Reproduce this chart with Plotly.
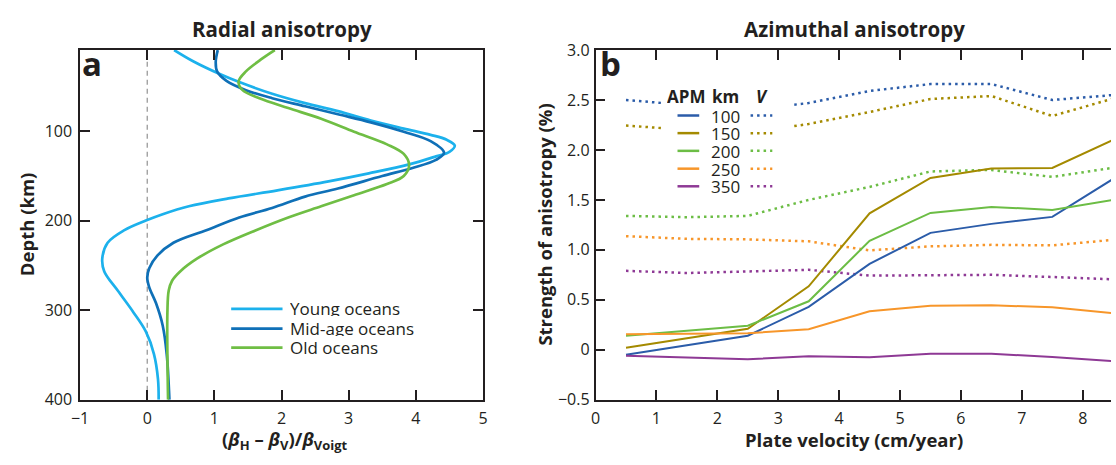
import plotly.graph_objects as go

W, H = 1116, 465
FONT = "Open Sans"
INK = "#231f20"

# ---- Panel a: radial anisotropy vs depth ----
young_x = [0.40, 0.69, 1.08, 1.37, 1.86, 2.35, 2.84, 3.33, 3.82, 4.22, 4.46, 4.58, 4.50,
           4.30, 3.90, 3.30, 2.70, 1.94, 1.21, 0.62, 0.23, -0.02, -0.34, -0.59, -0.67, -0.64,
           -0.44, -0.20, -0.02, 0.10, 0.16, 0.17]
young_depth = [9.2, 22, 36, 45, 58, 68.5, 77.5, 88, 97, 104, 109.5, 116, 123,
               128, 137, 147, 156, 166, 175, 183.8, 192.7, 199.8, 210.5, 224.6, 242.4, 256.6,
               278, 303, 324, 349, 377, 400]

mid_x = [1.05, 1.02, 1.04, 1.18, 1.47, 1.86, 2.35, 2.84, 3.33, 3.82, 4.22, 4.42, 4.30,
         3.95, 3.50, 2.84, 2.35, 1.86, 1.37, 0.88, 0.39, 0.15, 0.03, 0.0, 0.03,
         0.13, 0.23, 0.29, 0.33]
mid_depth = [9.2, 22, 33, 43.6, 54, 63, 72, 81, 90, 100.5, 111, 124, 132,
             141, 150, 164, 173, 185.7, 196.3, 210.5, 224.6, 239, 253, 263.7, 274.4,
             292, 317, 349, 400]

old_x = [1.90, 1.71, 1.47, 1.36, 1.42, 1.67, 2.10, 2.59, 3.08, 3.57, 3.82, 3.90, 3.82,
         3.57, 3.08, 2.59, 2.10, 1.62, 1.13, 0.74, 0.49, 0.37, 0.32, 0.30, 0.31]
old_depth = [9.2, 18.8, 33, 44.3, 54, 63, 74, 86, 100.5, 114.6, 125.3, 137.7, 150,
             159, 171.4, 183.8, 196.3, 210.5, 226.4, 242.4, 256.6, 267, 278, 303, 400]

radial_names = ["Young oceans", "Mid-age oceans", "Old oceans"]
radial_colors = ["#1cb1ec", "#0f70b7", "#6fbe44"]

# ---- Panel b: azimuthal anisotropy vs plate velocity ----
velocity = [0.5, 2.5, 3.5, 4.5, 5.5, 6.5, 7.5, 8.5]
velocity_v = [0.5, 1.5, 2.5, 3.5, 4.5, 5.5, 6.5, 7.5, 8.5]

apm_depths = ["100", "150", "200", "250", "350"]
apm_100 = [-0.05, 0.14, 0.43, 0.86, 1.17, 1.26, 1.33, 1.71]
apm_150 = [0.02, 0.21, 0.635, 1.365, 1.72, 1.815, 1.82, 2.10]
apm_200 = [0.14, 0.24, 0.485, 1.09, 1.37, 1.43, 1.40, 1.50]
apm_250 = [0.155, 0.165, 0.205, 0.385, 0.44, 0.445, 0.425, 0.365]
apm_350 = [-0.06, -0.095, -0.065, -0.075, -0.04, -0.04, -0.072, -0.115]

v_100 = [2.50, 2.45, 2.40, 2.47, 2.59, 2.66, 2.66, 2.50, 2.55]
v_150 = [2.245, 2.20, 2.17, 2.26, 2.38, 2.51, 2.54, 2.34, 2.515]
v_200 = [1.34, 1.327, 1.34, 1.50, 1.63, 1.785, 1.80, 1.73, 1.822]
v_250 = [1.137, 1.11, 1.105, 1.085, 0.995, 1.035, 1.05, 1.045, 1.10]
v_350 = [0.79, 0.768, 0.784, 0.80, 0.742, 0.745, 0.75, 0.728, 0.705]

apm_colors = ["#2b5ca9", "#a48a00", "#6cbd45", "#f7962a", "#8e3995"]

y_ticks_b = [-0.5, 0, 0.5, 1.0, 1.5, 2.0, 2.5, 3.0]
y_ticktext_b = ["\u22120.5", "0", "0.5", "1.0", "1.5", "2.0", "2.5", "3.0"]

# plot-area geometry (pixels)
A_L, A_R = 72, 480
B_L, B_R = 594, 1116
TOP, BOT = 41, 408


def xp(p):
    return p / W


def yp(p):
    return 1 - p / H


fig = go.Figure()

for xs, ds, name, col in zip([young_x, mid_x, old_x], [young_depth, mid_depth, old_depth],
                             radial_names, radial_colors):
    fig.add_trace(go.Scatter(x=xs, y=ds, mode="lines", name=name,
                             line=dict(color=col, width=2.7, shape="spline", smoothing=1.0),
                             xaxis="x", yaxis="y", showlegend=False))

solid = [apm_100, apm_150, apm_200, apm_250, apm_350]
dotted = [v_100, v_150, v_200, v_250, v_350]
DOT = "2.5px,4px"
for ys, col, nm in zip(dotted, apm_colors, apm_depths):
    fig.add_trace(go.Scatter(x=velocity_v, y=ys, mode="lines", name=nm + " V",
                             line=dict(color=col, width=2.5, dash=DOT),
                             xaxis="x2", yaxis="y2", showlegend=False))
for ys, col, nm in zip(solid, apm_colors, apm_depths):
    fig.add_trace(go.Scatter(x=velocity, y=ys, mode="lines", name=nm + " APM",
                             line=dict(color=col, width=2),
                             xaxis="x2", yaxis="y2", showlegend=False))

tickfont = dict(family=FONT, size=16, color=INK)
axis_common = dict(showgrid=False, zeroline=False, showline=True, linecolor=INK, linewidth=1.5,
                   ticks="inside", ticklen=10, tickwidth=1.5, tickcolor=INK, tickfont=tickfont)

b_xmax = (B_R - B_L) / 61.67
b_ybot = -0.5
b_ytop = 3.0

fig.update_layout(
    width=W, height=H,
    margin=dict(l=0, r=0, t=0, b=0),
    paper_bgcolor="white", plot_bgcolor="white",
    font=dict(family=FONT, color=INK),
    xaxis=dict(domain=[xp(A_L), xp(A_R)], range=[-1, 5], tickvals=[-1, 0, 1, 2, 3, 4, 5],
               mirror="ticks", anchor="y", ticklabelstandoff=3, **axis_common),
    yaxis=dict(domain=[yp(BOT), yp(TOP)], range=[400, 9.2], tickvals=[100, 200, 300, 400],
               mirror="ticks", anchor="x", ticklabelstandoff=3, **axis_common),
    xaxis2=dict(domain=[xp(B_L), 1.0], range=[0, b_xmax], tickvals=list(range(0, 9)),
                mirror="ticks", anchor="y2", ticklabelstandoff=3, **axis_common),
    yaxis2=dict(domain=[yp(BOT), yp(TOP)], range=[b_ybot, b_ytop], tickvals=y_ticks_b,
                ticktext=y_ticktext_b, mirror=False, anchor="x2", ticklabelstandoff=1,
                **axis_common),
    yaxis3=dict(domain=[yp(BOT), yp(TOP)], range=[b_ybot, b_ytop], tickvals=y_ticks_b,
                overlaying="y2", side="right", anchor="x2", showline=False, showgrid=False,
                zeroline=False, ticks="inside", ticklen=9, tickwidth=1.5, tickcolor=INK,
                showticklabels=False),
)

shapes = []
# zero reference line in panel a
shapes.append(dict(type="line", xref="x", yref="y domain", x0=0, x1=0, y0=0, y1=1,
                   line=dict(color="#9a9a9a", width=1.3, dash="5px,4px"), layer="below"))


# ---- legend for panel b (drawn on an opaque white card) ----
def bx(p):
    return (p - B_L) / 61.67


def by(p):
    return (356.3 - p) / 105.0


shapes.append(dict(type="rect", xref="x2", yref="y2", x0=bx(661), x1=bx(792.5),
                   y0=by(194), y1=by(76), fillcolor="white", line=dict(width=0),
                   layer="above"))
rows_b = [109.7, 128.2, 146.8, 165.5, 184.0]
annotations = []
for r, col, nm in zip(rows_b, apm_colors, apm_depths):
    shapes.append(dict(type="line", xref="paper", yref="paper", x0=xp(677), x1=xp(699),
                       y0=yp(r), y1=yp(r), line=dict(color=col, width=2.5), layer="above"))
    shapes.append(dict(type="line", xref="paper", yref="paper", x0=xp(751), x1=xp(773),
                       y0=yp(r), y1=yp(r), line=dict(color=col, width=2.5, dash=DOT),
                       layer="above"))
    annotations.append(dict(text=nm, xref="paper", yref="paper", x=xp(741), y=yp(r),
                            xanchor="right", yanchor="middle", showarrow=False, height=14,
                            borderpad=0, font=dict(family=FONT, size=17, color=INK)))
for txt, x0 in [("<b>APM</b>", 665), ("<b>km</b>", 711), ("<b><i>V</i></b>", 755)]:
    annotations.append(dict(text=txt, xref="paper", yref="paper", x=xp(x0), y=yp(89),
                            xanchor="left", yanchor="middle", showarrow=False, height=14,
                            borderpad=0, font=dict(family=FONT, size=17, color=INK)))

# ---- legend for panel a ----
rows_a = [312.7, 333.3, 353.3]
for r, col, nm in zip(rows_a, radial_colors, radial_names):
    shapes.append(dict(type="line", xref="paper", yref="paper", x0=xp(225), x1=xp(277),
                       y0=yp(r), y1=yp(r), line=dict(color=col, width=2.7), layer="above"))
    annotations.append(dict(text=nm, xref="paper", yref="paper", x=xp(284), y=yp(r),
                            xanchor="left", yanchor="middle", showarrow=False, height=15,
                            borderpad=0, font=dict(family=FONT, size=17, color=INK)))


# ---- titles, axis titles, panel letters ----
def label(text, x, y, size, angle=0, xanchor="center"):
    annotations.append(dict(text=text, xref="paper", yref="paper", x=xp(x), y=yp(y),
                            xanchor=xanchor, yanchor="middle", showarrow=False, textangle=angle,
                            borderpad=0, font=dict(family=FONT, size=size, color=INK)))


label("<b>Radial anisotropy</b>", 276, 19, 20.5)
label("<b>Azimuthal anisotropy</b>", 856, 19, 20.5)
label("<b>Depth (km)</b>", 18, 224, 18.5, angle=-90)
label("<b>Strength of anisotropy (%)</b>", 542, 224, 18.5, angle=-90)
label("<b>Plate velocity (cm/year)</b>", 856, 450, 18.5)
label("<b>(<i>β</i><sub>H</sub> – <i>β</i><sub>V</sub>)/<i>β</i><sub>Voigt</sub></b>", 279, 450, 18.5)
label("<b>a</b>", 73, 55, 33, xanchor="left")
label("<b>b</b>", 598, 55, 33, xanchor="left")

fig.update_layout(shapes=shapes, annotations=annotations)
fig.write_html("out.html")
